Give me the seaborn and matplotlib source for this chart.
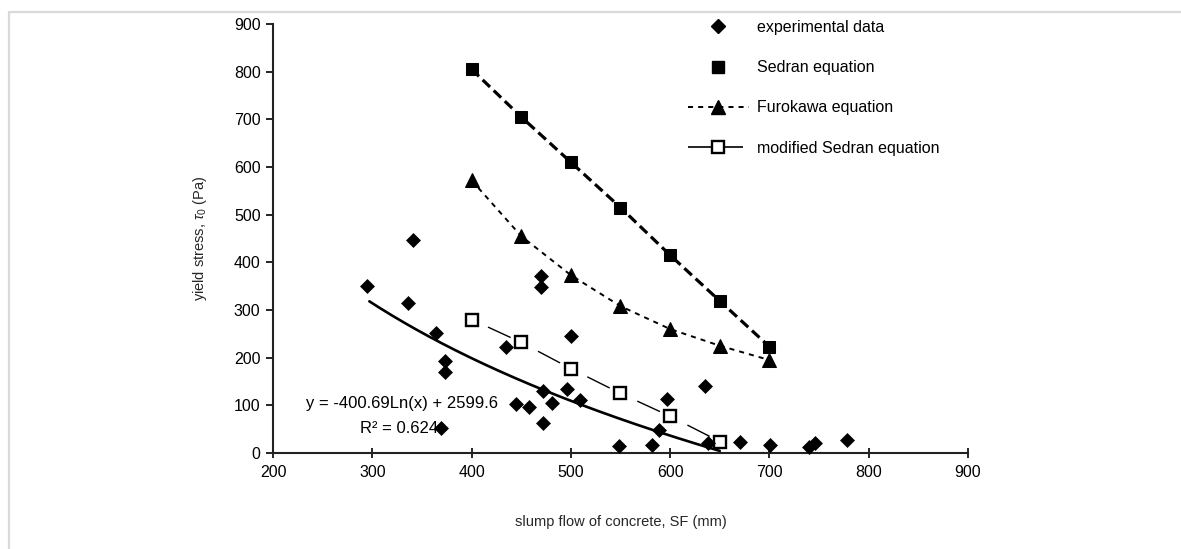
import numpy as np
import matplotlib as mpl
mpl.use('Agg')
import matplotlib.pyplot as plt
from matplotlib.lines import Line2D
import seaborn as sns

# experimental points (slump flow mm, yield stress Pa)
exp_sf = [295, 336, 341, 364, 369, 373, 373, 435, 445, 458, 470, 470, 472, 472,
          481, 496, 500, 509, 548, 582, 589, 597, 635, 638, 670, 701, 740, 746, 778]
exp_tau = [351, 315, 447, 251, 53, 192, 170, 222, 102, 96, 372, 349, 131, 63,
           104, 135, 245, 112, 15, 17, 48, 113, 141, 20, 24, 17, 13, 20, 27]

# model predictions
eq_sf = [400, 450, 500, 550, 600, 650, 700]
sedran = [805, 705, 610, 515, 415, 319, 223]
furokawa = [572, 455, 373, 308, 260, 225, 195]
mod_sf = [400, 450, 500, 550, 600, 650]
mod_sedran = [280, 232, 177, 125, 77, 24]

# log trend line shown on the chart: y = a*ln(x) + b
fit_a, fit_b = -400.69, 2599.6
fit_lo, fit_hi = 297, 650

labels = ['experimental data', 'Sedran equation', 'Furokawa equation',
          'modified Sedran equation']

sns.set_style('ticks')
plt.rcParams['font.family'] = ['Liberation Sans', 'DejaVu Sans']
plt.rcParams['mathtext.fontset'] = 'custom'
plt.rcParams['mathtext.rm'] = 'Liberation Sans'
plt.rcParams['mathtext.it'] = 'Liberation Sans:italic'
plt.rcParams['text.color'] = 'black'

fig, ax = plt.subplots(figsize=(11.81, 5.49), dpi=100)
fig.subplots_adjust(left=0.2312, right=0.8196, bottom=0.1749, top=0.9563)

sns.lineplot(x=eq_sf, y=sedran, ax=ax, color='black', lw=2.3,
             linestyle=(0, (3.2, 1.6)), marker='s', markersize=9,
             markeredgecolor='black', label=labels[1], legend=False)
sns.lineplot(x=eq_sf, y=furokawa, ax=ax, color='black', lw=1.4,
             linestyle=(0, (2.6, 2.6)), marker='^', markersize=9.5,
             markeredgecolor='black', label=labels[2], legend=False)
sns.lineplot(x=mod_sf, y=mod_sedran, ax=ax, color='black', lw=1.0,
             linestyle=(27, (18, 22)), marker='s', markersize=8.5,
             markerfacecolor='white', markeredgecolor='black',
             markeredgewidth=1.7, label=labels[3], legend=False)

xs = np.linspace(fit_lo, fit_hi, 200)
sns.lineplot(x=xs, y=fit_a * np.log(xs) + fit_b, ax=ax, color='black', lw=1.9,
             legend=False)

sns.scatterplot(x=exp_sf, y=exp_tau, ax=ax, color='black', marker='D', s=58,
                edgecolor='black', linewidth=0, clip_on=False, zorder=5,
                legend=False)

ax.text(330, 103, 'y = -400.69Ln(x) + 2599.6', ha='center', va='center',
        fontsize=12)
ax.text(327, 52, 'R\u00b2 = 0.624', ha='center', va='center', fontsize=12)

ax.set_xlim(200, 900)
ax.set_ylim(0, 900)
ax.set_xticks(range(200, 1000, 100))
ax.set_yticks(range(0, 1000, 100))
ax.tick_params(axis='x', direction='inout', length=7, width=1.2, pad=5,
               labelsize=11.5, colors='black')
ax.tick_params(axis='y', direction='out', length=5, width=1.2, pad=4,
               labelsize=11.5, colors='black')
for s in ['left', 'bottom']:
    ax.spines[s].set_linewidth(1.5)
    ax.spines[s].set_color('#222222')
sns.despine(ax=ax)

ax.set_xlabel('slump flow of concrete, SF (mm)', fontsize=10.5, labelpad=25)
ax.set_ylabel(r'yield stress, $\tau_0$ (Pa)', fontsize=10.5, labelpad=18)

handles = [
    Line2D([], [], ls='none', marker='D', color='black', ms=7),
    Line2D([], [], ls='none', marker='s', color='black', ms=9),
    Line2D([], [], color='black', lw=1.4, ls=(0, (2.6, 2.6)), marker='^',
           ms=9.5),
    Line2D([], [], color='black', lw=1.2, ls=(0, (14, 5)), marker='s',
           mfc='white', mew=1.7, ms=8.5),
]
ax.legend(handles, labels, loc='upper left',
          bbox_to_anchor=(688 / 1181, 1 - 20 / 549),
          bbox_transform=fig.transFigure, frameon=False, fontsize=11.5,
          handlelength=3.8, handletextpad=0.5, labelspacing=1.58,
          borderpad=0, borderaxespad=0)

# thin grey frame lines along the top and left edge of the image
fig.add_artist(Line2D([9 / 1181, 1], [1 - 12 / 549] * 2,
                      transform=fig.transFigure, color='#d9d9d9', lw=1.6))
fig.add_artist(Line2D([9 / 1181] * 2, [0, 1 - 12 / 549],
                      transform=fig.transFigure, color='#d9d9d9', lw=1.6))

fig.savefig('out.png', dpi=100)
